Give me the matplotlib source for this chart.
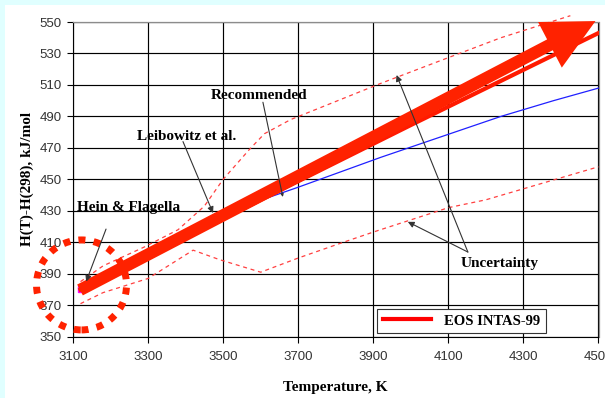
import matplotlib
matplotlib.use("Agg")
import matplotlib.pyplot as plt
from matplotlib.patches import FancyArrowPatch, Ellipse, Rectangle, ArrowStyle

# ---------------- data ----------------
eos_T = [3120, 3500, 4000, 4500]
eos_H = [380, 425, 484.5, 543]

leib_T = [3130, 3250, 3470, 3700, 3920, 4240, 4380, 4500]
leib_H = [381, 396, 426, 445, 464, 490, 500, 508]

upper_T = [3120, 3180, 3290, 3380, 3450, 3500, 3570, 3610, 3680, 3920, 4085, 4240, 4425]
upper_H = [385, 395, 407, 418, 433, 450, 469, 479, 488, 511, 526, 540, 554]

lower_T = [3120, 3180, 3300, 3420, 3490, 3600, 3700, 3820, 3900, 4100, 4200, 4500]
lower_H = [371, 378, 387, 405, 399, 391, 400, 410, 416.5, 432, 437, 458]

hein_T = [3120]
hein_H = [380]

x_ticks = [3100, 3300, 3500, 3700, 3900, 4100, 4300, 4500]
y_ticks = [350, 370, 390, 410, 430, 450, 470, 490, 510, 530, 550]

big_arrow_start = (3118.7, 379.7)
big_arrow_end = (4492, 550.6)

# ---------------- figure ----------------
W, H = 605, 398
fig = plt.figure(figsize=(W / 100, H / 100), dpi=100)
fig.patch.set_facecolor("#e0ffff")
fig.patches.append(Rectangle((5 / W, 0), 1, 1 - 5 / H, transform=fig.transFigure,
                             facecolor="white", edgecolor="none", zorder=-10))

ax = fig.add_axes([73 / W, 1 - 336.7 / H, 525.5 / W, 314.7 / H])
ax.set_facecolor("white")
ax.set_xlim(3100, 4500)
ax.set_ylim(350, 550)
ax.set_xticks(x_ticks)
ax.set_yticks(y_ticks)
ax.set_axisbelow(True)
ax.grid(True, color="black", lw=0.85)

for s in ["left", "bottom"]:
    ax.spines[s].set_color("black")
    ax.spines[s].set_linewidth(0.8)
for s in ["top", "right"]:
    ax.spines[s].set_color("#8c8c8c")
    ax.spines[s].set_linewidth(0.9)

ax.tick_params(axis="both", direction="out", length=4, width=0.8, color="black",
               labelcolor="#333333", labelsize=9.5)
ax.tick_params(axis="x", pad=6.2)
ax.tick_params(axis="y", pad=4.3)
for lab in ax.get_xticklabels() + ax.get_yticklabels():
    lab.set_fontfamily("Liberation Sans")

serif = {"family": "Liberation Serif", "weight": "bold", "size": 11}

ax.set_xlabel("Temperature, K", fontdict=serif, va="center")
ax.xaxis.set_label_coords(0.5, (336.7 - 387) / 314.7)
ax.set_ylabel("H(T)-H(298), kJ/mol", fontdict=serif, va="center", ha="center")
ax.yaxis.set_label_coords((27 - 73) / 525.5, 0.5)

# ---------------- series ----------------
ax.plot(upper_T, upper_H, color="#ff4040", lw=0.9, ls=(0, (3.2, 3)), clip_on=False, zorder=3)
ax.plot(lower_T, lower_H, color="#ff4040", lw=0.9, ls=(0, (3.2, 3)), zorder=3)
ax.plot(leib_T, leib_H, color="#2020ff", lw=0.9, zorder=3)
eos_line, = ax.plot(eos_T, eos_H, color="#ff1a00", lw=3, zorder=4, label="EOS INTAS-99")
ax.plot(hein_T, hein_H, "s", color="#ff00ff", ms=4, zorder=3)

# big overlay arrow
arr = FancyArrowPatch(big_arrow_start, big_arrow_end,
                      arrowstyle=ArrowStyle.Simple(head_length=37, head_width=37, tail_width=8.8),
                      mutation_scale=1, color="#ff2200", shrinkA=0, shrinkB=0,
                      clip_on=False, zorder=5, lw=0)
ax.add_patch(arr)

# dotted circle
circ = Ellipse((3122.7, 382.9), 90 / 0.37536, 90 / 1.5735, fill=False,
               edgecolor="#ff2200", lw=5, ls=(0, (1, 1.2)), clip_on=False, zorder=6)
ax.add_patch(circ)

# ---------------- annotations ----------------
ap = dict(arrowstyle="-|>", color="#333333", lw=0.8, mutation_scale=9, shrinkA=0, shrinkB=0)

ax.text(3595.5, 503, "Recommended", fontdict=serif, ha="center", va="center", zorder=8)
ax.annotate("", xy=(3659, 438.8), xytext=(3606, 499),
            arrowprops=dict(arrowstyle="-|>", color="#333333", lw=0.8, mutation_scale=4,
                            shrinkA=0, shrinkB=0), zorder=8)

ax.text(3402, 477.5, "Leibowitz et al.", fontdict=serif, ha="center", va="center", zorder=8)
ax.annotate("", xy=(3473, 428.6), xytext=(3393, 474), arrowprops=ap, zorder=8)

ax.text(3249, 432.4, "Hein & Flagella", fontdict=serif, ha="center", va="center", zorder=8)
ax.annotate("", xy=(3135, 385), xytext=(3188, 418.4), arrowprops=ap, zorder=8)

ax.text(4236, 396.8, "Uncertainty", fontdict=serif, ha="center", va="center", zorder=8)
ax.annotate("", xy=(3962, 516.3), xytext=(4152, 403.8), arrowprops=ap, zorder=8)
ax.annotate("", xy=(3992, 423), xytext=(4152, 403.8), arrowprops=ap, zorder=8)

# legend
leg = ax.legend(handles=[eos_line], loc="center",
                bbox_to_anchor=((461.5 - 73) / 525.5, (336.7 - 321) / 314.7),
                prop={"family": "Liberation Serif", "weight": "bold", "size": 10.5},
                frameon=True, fancybox=False, shadow=False, framealpha=1,
                edgecolor="#333333", handlelength=3.3, handletextpad=0.9,
                borderpad=0.4, borderaxespad=0)
leg.get_frame().set_linewidth(0.8)
leg.legend_handles[0].set_color("#ff0000")
leg.set_zorder(10)

fig.savefig("out.png", dpi=100, facecolor=fig.get_facecolor())
